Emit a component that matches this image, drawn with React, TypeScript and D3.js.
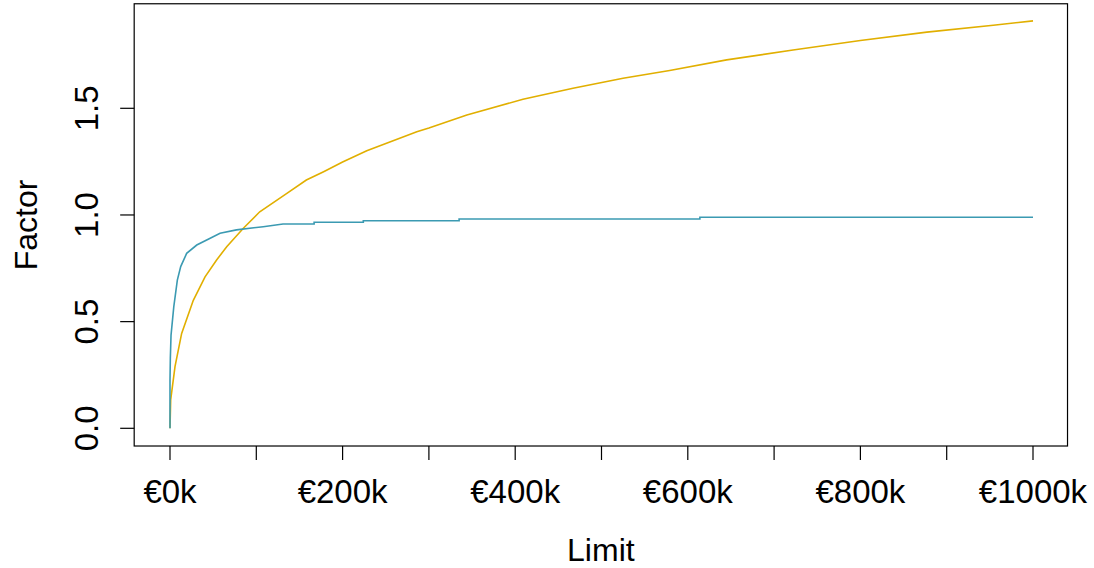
import React, { useEffect, useRef } from 'react';
import * as d3 from 'd3';

// limit in €k, factor values
const blueLimits = [0, 0, 0.4, 1.2, 4.4, 8.5, 12.4, 19.3, 31, 46, 58, 77, 108, 131, 167, 167, 224, 224, 335, 335, 614, 614, 1000];
const blueFactors = [0, 0.226, 0.33, 0.437, 0.57, 0.695, 0.758, 0.82, 0.859, 0.89, 0.914, 0.93, 0.945, 0.958, 0.958, 0.966, 0.966, 0.973, 0.973, 0.981, 0.981, 0.989, 0.989];

const yellowLimits = [0, 0.8, 5.8, 13.5, 27, 40.6, 54, 65.7, 85, 104, 135, 158, 178, 200, 228, 286, 300, 344, 409, 467, 525, 579, 645, 722, 800, 877, 954, 1000];
const yellowFactors = [0, 0.133, 0.289, 0.445, 0.6, 0.71, 0.789, 0.851, 0.938, 1.015, 1.1, 1.164, 1.203, 1.248, 1.301, 1.39, 1.408, 1.469, 1.542, 1.594, 1.641, 1.677, 1.727, 1.773, 1.818, 1.857, 1.889, 1.91];

const xTicks = [0, 100, 200, 300, 400, 500, 600, 700, 800, 900, 1000];
const xLabelTicks = [0, 200, 400, 600, 800, 1000];
const yTicks = [0, 0.5, 1, 1.5];

const seriesColors = ['#3B9AB2', '#E1AF00'];

const App = () => {
    const ref = useRef<SVGSVGElement | null>(null);

    useEffect(() => {
        if (!ref.current) return;
        const svg = d3.select(ref.current);
        svg.selectAll('*').remove();

        const font = '"Liberation Sans", Arial, sans-serif';

        // scales pinned to tick positions in the reference
        const x = d3.scaleLinear().domain([0, 1000]).range([170, 1033]);
        const y = d3.scaleLinear().domain([0, 1.5]).range([428.3, 108.3]);

        const box = { x0: x(-41.5), x1: x(1040), y0: y(1.99), y1: y(-0.083) };

        // plot frame
        svg.append('rect')
            .attr('x', box.x0).attr('y', box.y0)
            .attr('width', box.x1 - box.x0).attr('height', box.y1 - box.y0)
            .attr('fill', 'none').attr('stroke', '#000').attr('stroke-width', 1.2);

        // x axis ticks + labels
        const xg = svg.append('g');
        xg.selectAll('line').data(xTicks).enter().append('line')
            .attr('x1', d => x(d)).attr('x2', d => x(d))
            .attr('y1', box.y1).attr('y2', box.y1 + 14)
            .attr('stroke', '#000').attr('stroke-width', 1.2);
        xg.selectAll('text').data(xLabelTicks).enter().append('text')
            .attr('x', d => x(d)).attr('y', 502.5)
            .attr('text-anchor', 'middle')
            .style('font-family', font).style('font-size', '33px')
            .text(d => `€${d}k`);

        // y axis ticks + rotated labels
        const yg = svg.append('g');
        yg.selectAll('line').data(yTicks).enter().append('line')
            .attr('x1', box.x0 - 14).attr('x2', box.x0)
            .attr('y1', d => y(d)).attr('y2', d => y(d))
            .attr('stroke', '#000').attr('stroke-width', 1.2);
        yg.selectAll('text').data(yTicks).enter().append('text')
            .attr('transform', d => `translate(98,${y(d)}) rotate(-90)`)
            .attr('text-anchor', 'middle')
            .style('font-family', font).style('font-size', '33px')
            .text(d => d3.format('.1f')(d));

        // axis titles
        svg.append('text')
            .attr('x', (box.x0 + box.x1) / 2).attr('y', 561)
            .attr('text-anchor', 'middle')
            .style('font-family', font).style('font-size', '32px')
            .text('Limit');
        svg.append('text')
            .attr('transform', `translate(37,${(box.y0 + box.y1) / 2}) rotate(-90)`)
            .attr('text-anchor', 'middle')
            .style('font-family', font).style('font-size', '32px')
            .text('Factor');

        const line = d3.line<[number, number]>()
            .x(d => x(d[0]))
            .y(d => y(d[1]));

        const yellow = yellowLimits.map((l, i) => [l, yellowFactors[i]] as [number, number]);
        const blue = blueLimits.map((l, i) => [l, blueFactors[i]] as [number, number]);

        svg.append('path').datum(yellow)
            .attr('d', line)
            .attr('fill', 'none').attr('stroke', seriesColors[1]).attr('stroke-width', 1.6);
        svg.append('path').datum(blue)
            .attr('d', line)
            .attr('fill', 'none').attr('stroke', seriesColors[0]).attr('stroke-width', 1.6);
    }, []);

    return (
        <svg ref={ref} width={1094} height={568}
            style={{ position: 'absolute', left: 0, top: 0, background: '#fff' }} />
    );
};

export default App;
